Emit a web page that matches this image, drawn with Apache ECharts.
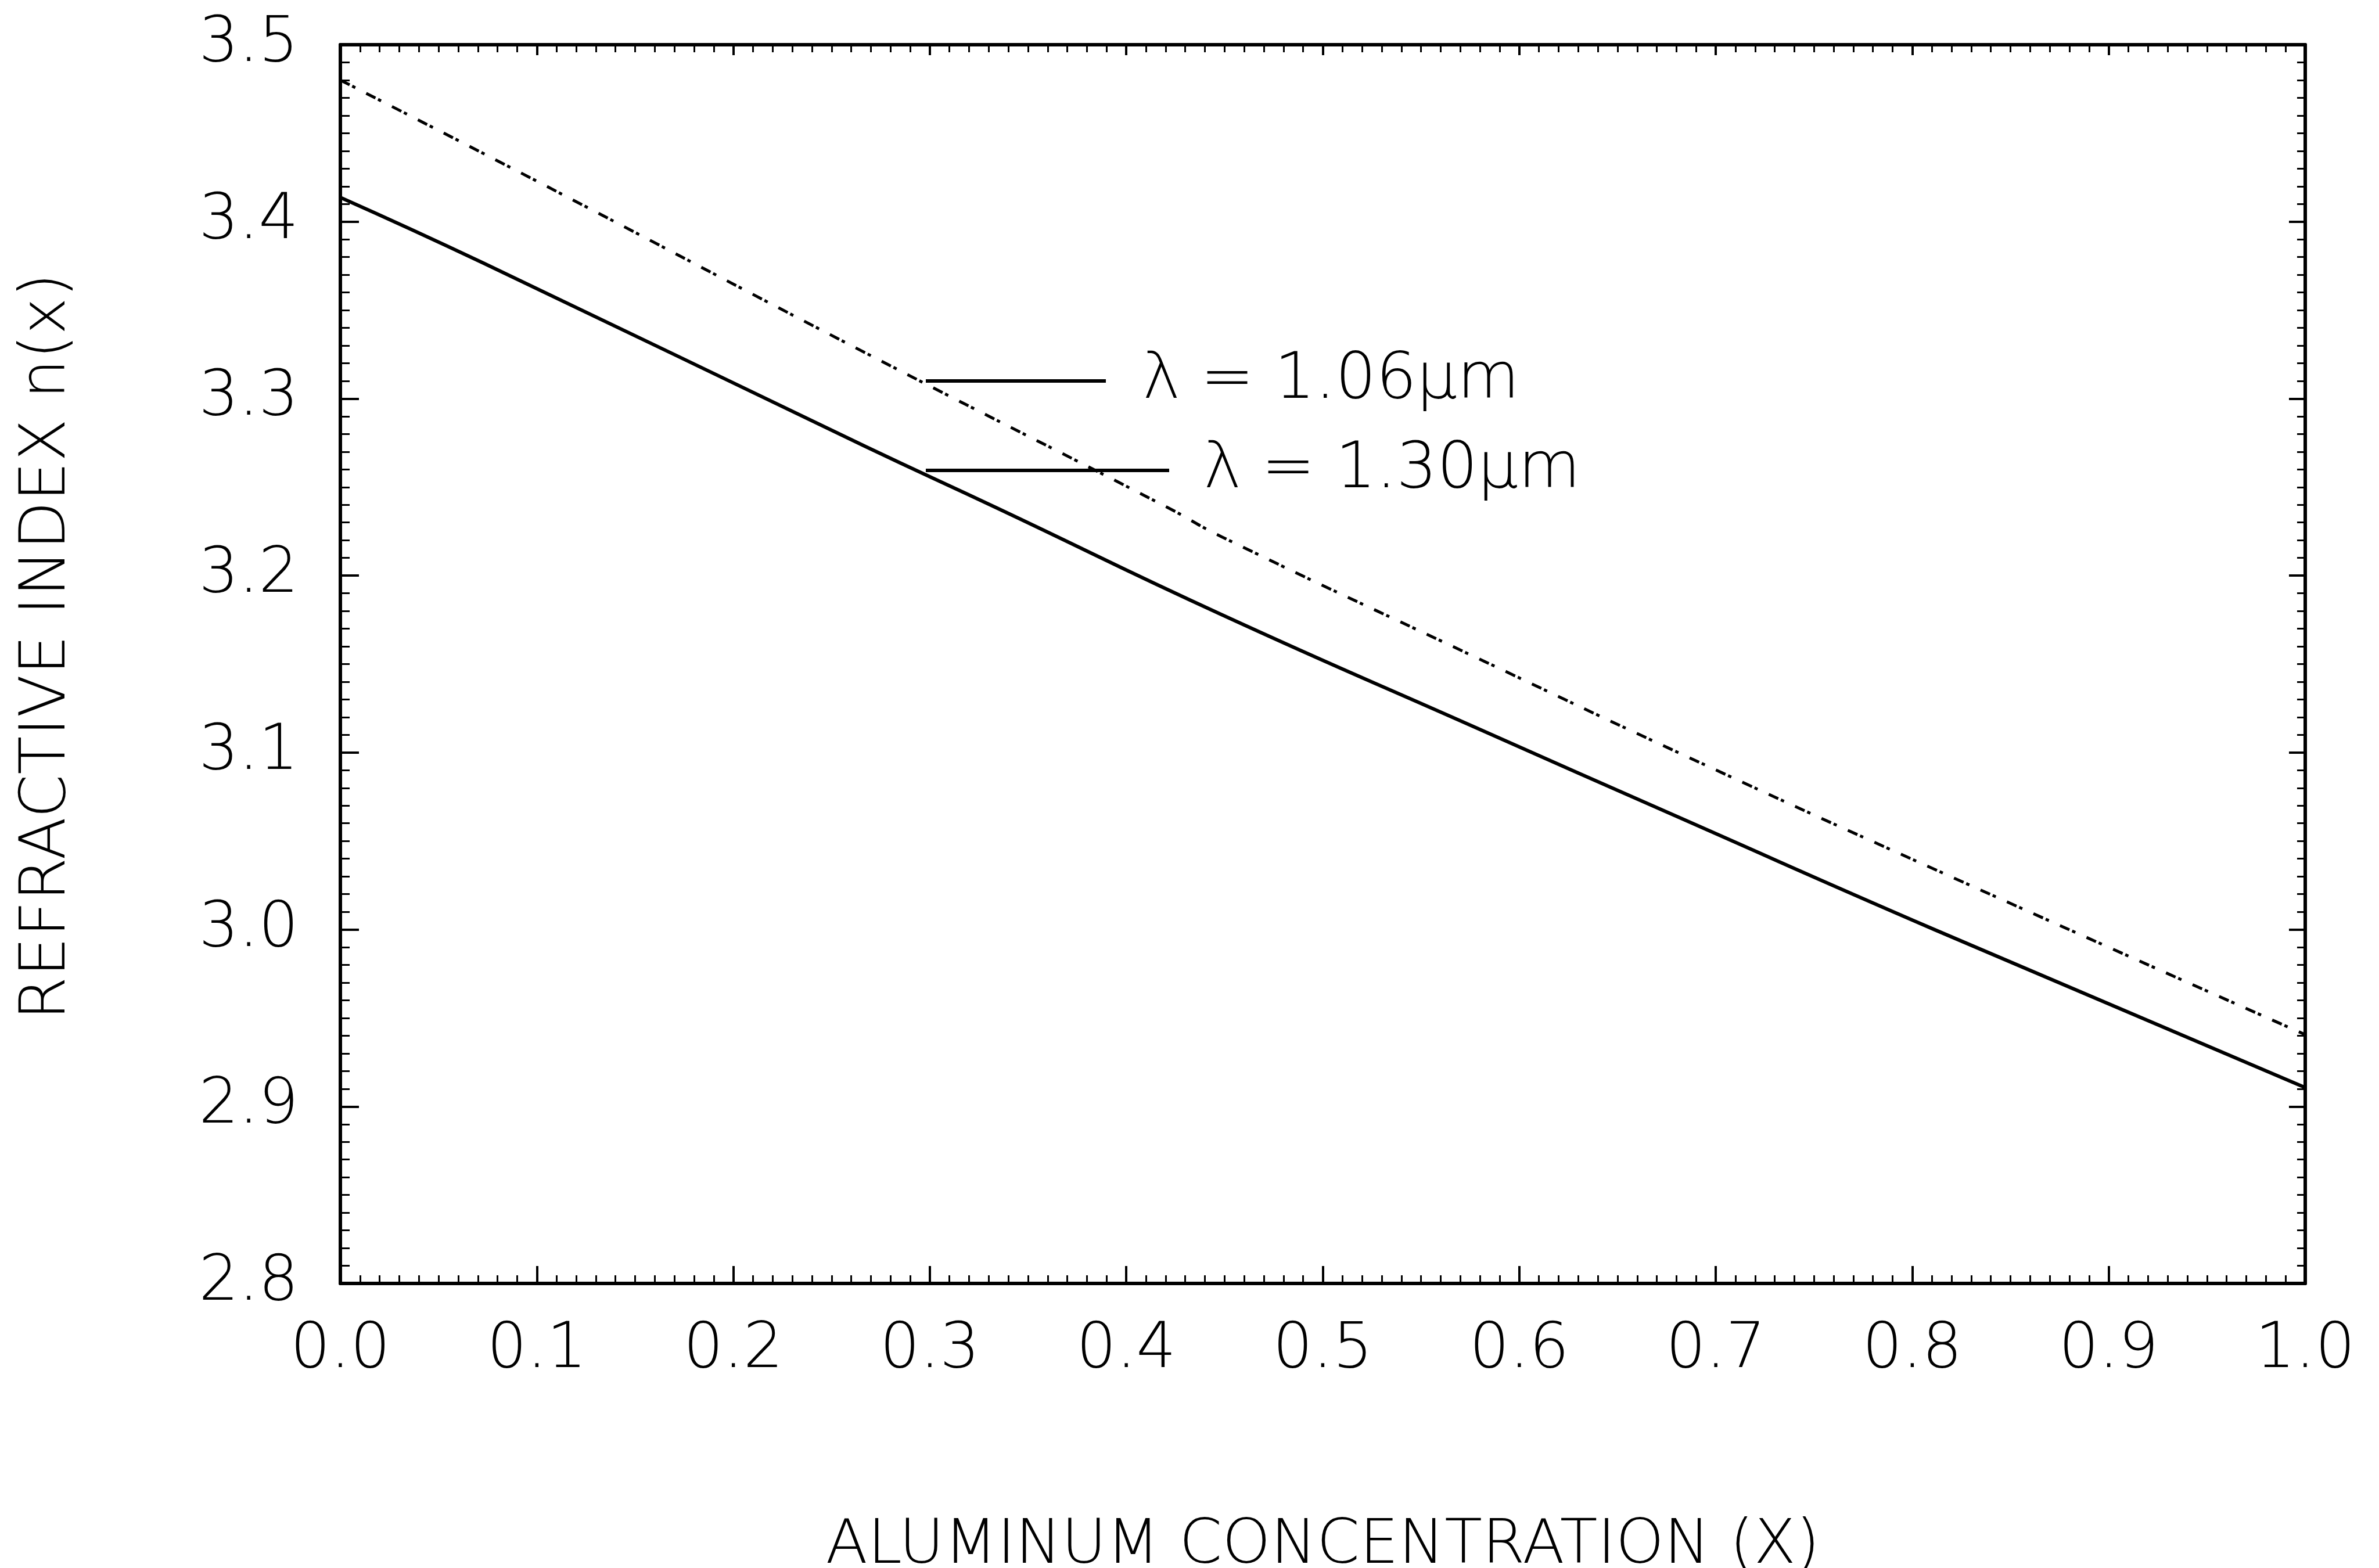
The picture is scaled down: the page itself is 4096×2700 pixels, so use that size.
<!DOCTYPE html>
<html>
<head>
<meta charset="utf-8">
<script src="https://cdn.jsdelivr.net/npm/echarts/dist/echarts.min.js"></script>
<style>html,body{margin:0;padding:0;background:#fff}#c{width:4096px;height:2700px}</style>
</head>
<body>
<div id="c"></div>
<script>
// Data
const seriesNames = ['λ = 1.06μm', 'λ = 1.30μm'];
const x106 = [0.0, 0.1005, 0.267, 0.4208, 0.4486, 0.5781, 0.6844, 0.8106, 1.0];
const n106 = [3.480, 3.4226, 3.326, 3.2386, 3.2219, 3.1537, 3.0982, 3.0344, 2.9406];
const x130 = [0.0, 0.0728, 0.2672, 0.334, 0.4486, 0.5781, 0.6818, 0.8114, 1.0];
const n130 = [3.4137, 3.3766, 3.273, 3.2383, 3.1779, 3.114, 3.0631, 2.9999, 2.9107];
const xTitle = 'ALUMINUM CONCENTRATION (X)';
const yTitle = 'REFRACTIVE INDEX n(x)';

const FONT = "'DejaVu Sans', 'Liberation Sans', sans-serif";
const W = 200;

function pairs(xs, ys) { return xs.map((x, i) => [x, ys[i]]); }

const axisCommon = {
  axisLine: { show: true, onZero: false, lineStyle: { color: '#000', width: 6 } },
  splitLine: { show: false },
  minorSplitLine: { show: false }
};

const legendText = { fontFamily: FONT, fontWeight: W, fontSize: 110, lineHeight: 108, color: '#000' };
const hideSymbol = { color: 'transparent', borderWidth: 0, opacity: 0 };

const chart = echarts.init(document.getElementById('c'), null, { renderer: 'canvas' });
chart.setOption({
  animation: false,
  backgroundColor: '#fff',
  grid: { left: 586, right: 127, top: 77, bottom: 490, containLabel: false, outerBoundsMode: 'none', show: false },
  legend: [
    {
      data: [{ name: seriesNames[0], lineStyle: { type: 'solid', width: 6, color: '#000' }, itemStyle: hideSymbol }],
      left: 1591, top: 601, padding: 0, itemWidth: 310, itemHeight: 20, itemGap: 0,
      selectedMode: false, orient: 'horizontal',
      textStyle: Object.assign({ padding: [0, 0, 0, 58] }, legendText)
    },
    {
      data: [{ name: seriesNames[1], lineStyle: { type: 'solid', width: 6, color: '#000' }, itemStyle: hideSymbol }],
      left: 1591, top: 755, padding: 0, itemWidth: 419, itemHeight: 20, itemGap: 0,
      selectedMode: false, orient: 'horizontal',
      textStyle: Object.assign({ padding: [0, 0, 0, 54] }, legendText)
    }
  ],
  xAxis: [
    Object.assign({}, axisCommon, {
      type: 'value', min: 0, max: 1, interval: 0.1, position: 'bottom',
      axisTick: { show: true, inside: true, length: 30, lineStyle: { color: '#000', width: 4 } },
      minorTick: { show: true, splitNumber: 10, length: 14, lineStyle: { color: '#000', width: 3 } },
      axisLabel: { show: true, margin: 62, formatter: v => v.toFixed(1), fontSize: 108, fontFamily: FONT, fontWeight: W, color: '#000' },
      name: xTitle, nameLocation: 'middle', nameGap: 400,
      nameTextStyle: { fontSize: 106, fontFamily: FONT, fontWeight: W, color: '#000' }
    }),
    Object.assign({}, axisCommon, {
      type: 'value', min: 0, max: 1, interval: 0.1, position: 'top',
      axisTick: { show: true, inside: true, length: 18, lineStyle: { color: '#000', width: 4 } },
      minorTick: { show: true, splitNumber: 10, length: 13, lineStyle: { color: '#000', width: 3 } },
      axisLabel: { show: false }
    })
  ],
  yAxis: [
    Object.assign({}, axisCommon, {
      type: 'value', min: 2.8, max: 3.5, interval: 0.1, position: 'left',
      axisTick: { show: true, inside: true, length: 32, lineStyle: { color: '#000', width: 4 } },
      minorTick: { show: true, splitNumber: 10, length: 16, lineStyle: { color: '#000', width: 3 } },
      axisLabel: { show: true, margin: 72, formatter: v => v.toFixed(1), fontSize: 108, fontFamily: FONT, fontWeight: W, color: '#000' },
      name: yTitle, nameLocation: 'middle', nameGap: 449, nameRotate: 90,
      nameTextStyle: { fontSize: 108, fontFamily: FONT, fontWeight: W, color: '#000', padding: [0, 0, 0, 60] }
    }),
    Object.assign({}, axisCommon, {
      type: 'value', min: 2.8, max: 3.5, interval: 0.1, position: 'right',
      axisTick: { show: true, inside: true, length: 28, lineStyle: { color: '#000', width: 4 } },
      minorTick: { show: true, splitNumber: 10, length: 14, lineStyle: { color: '#000', width: 3 } },
      axisLabel: { show: false }
    })
  ],
  series: [
    {
      name: seriesNames[0], type: 'line', xAxisIndex: 0, yAxisIndex: 0,
      data: pairs(x106, n106), smooth: true, symbol: 'none', showSymbol: false,
      lineStyle: { color: '#000', width: 5, type: [18, 5, 6, 21] },
      itemStyle: { color: '#000' }, z: 3
    },
    {
      name: seriesNames[1], type: 'line', xAxisIndex: 0, yAxisIndex: 0,
      data: pairs(x130, n130), smooth: true, symbol: 'none', showSymbol: false,
      lineStyle: { color: '#000', width: 6, type: 'solid' },
      itemStyle: { color: '#000' }, z: 3
    }
  ]
});
</script>
</body>
</html>
